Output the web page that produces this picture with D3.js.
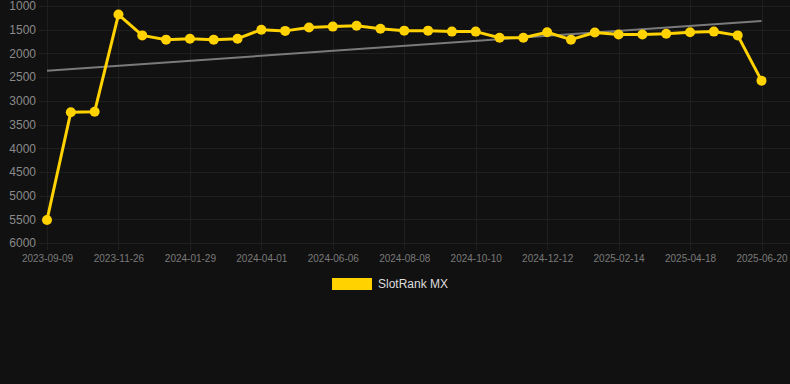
<!DOCTYPE html>
<html>
<head>
<meta charset="utf-8">
<script src="https://cdn.jsdelivr.net/npm/d3@7"></script>
<style>
  html, body { margin: 0; padding: 0; background: #111111; }
  svg { display: block; }
</style>
</head>
<body>
<svg id="chart" width="790" height="384"></svg>
<script>
const categories = [
  "2023-09-09","2023-10-05","2023-10-31","2023-11-26","2023-12-17","2024-01-08",
  "2024-01-29","2024-02-19","2024-03-11","2024-04-01","2024-04-23","2024-05-15",
  "2024-06-06","2024-06-27","2024-07-18","2024-08-08","2024-08-29","2024-09-19",
  "2024-10-10","2024-10-31","2024-11-21","2024-12-12","2025-01-02","2025-01-23",
  "2025-02-14","2025-03-07","2025-03-28","2025-04-18","2025-05-09","2025-05-30",
  "2025-06-20"
];
const rankValues = [
  5515, 3240, 3230, 1180, 1620, 1710, 1690, 1710, 1690, 1500, 1525, 1455,
  1435, 1415, 1480, 1520, 1520, 1540, 1540, 1670, 1670, 1555, 1710, 1560,
  1600, 1600, 1585, 1555, 1540, 1620, 2575
];
const trendValues = [2365, 1316];
const yTicks = [1000, 1500, 2000, 2500, 3000, 3500, 4000, 4500, 5000, 5500, 6000];
const xTickLabels = ["2023-09-09","2023-11-26","2024-01-29","2024-04-01","2024-06-06",
  "2024-08-08","2024-10-10","2024-12-12","2025-02-14","2025-04-18","2025-06-20"];
const seriesName = "SlotRank MX";

(function () {
const svg = d3.select("#chart");
const plotLeft = 47, plotRight = 761.5, plotTop = 6, plotBottom = 243;
const x = d3.scalePoint().domain(categories).range([plotLeft, plotRight]);
const y = d3.scaleLinear().domain([1000, 6000]).range([plotTop, plotBottom]);

const gridColor = "#1f1f1f";
svg.append("g").selectAll("line").data(yTicks).join("line")
  .attr("x1", 39).attr("x2", 790)
  .attr("y1", d => Math.round(y(d)) + 0.5).attr("y2", d => Math.round(y(d)) + 0.5)
  .attr("stroke", gridColor).attr("stroke-width", 1);
svg.append("g").selectAll("line").data(xTickLabels).join("line")
  .attr("x1", d => Math.round(x(d)) + 0.5).attr("x2", d => Math.round(x(d)) + 0.5)
  .attr("y1", 0).attr("y2", 250)
  .attr("stroke", gridColor).attr("stroke-width", 1);

const yAxis = d3.axisLeft(y).tickValues(yTicks).tickSize(0).tickPadding(0).tickFormat(d3.format("d"));
const yg = svg.append("g").attr("transform", "translate(36,0)").call(yAxis);
yg.select(".domain").remove();
yg.selectAll("text").attr("fill", "#8a8a8a").attr("font-family", "Liberation Sans, Arial, sans-serif")
  .attr("font-size", 12);

const xAxis = d3.axisBottom(x).tickValues(xTickLabels).tickSize(0).tickPadding(0);
const xg = svg.append("g").attr("transform", "translate(0,255)").call(xAxis);
xg.select(".domain").remove();
xg.selectAll("text").attr("fill", "#7a7a7a").attr("font-family", "Liberation Sans, Arial, sans-serif")
  .attr("font-size", 10).attr("dy", "0.71em");

svg.append("line")
  .attr("x1", x(categories[0])).attr("y1", y(trendValues[0]))
  .attr("x2", x(categories[categories.length - 1])).attr("y2", y(trendValues[1]))
  .attr("stroke", "#7a7a7a").attr("stroke-width", 2);

const data = categories.map((c, i) => ({ c, v: rankValues[i] }));
const line = d3.line().x(d => x(d.c)).y(d => y(d.v));
svg.append("path").datum(data).attr("d", line)
  .attr("fill", "none").attr("stroke", "#FFD200").attr("stroke-width", 3)
  .attr("stroke-linejoin", "round");
svg.append("g").selectAll("circle").data(data).join("circle")
  .attr("cx", d => x(d.c)).attr("cy", d => y(d.v)).attr("r", 5)
  .attr("fill", "#FFD200");

const lg = svg.append("g");
lg.append("rect").attr("x", 332).attr("y", 278).attr("width", 40).attr("height", 12)
  .attr("fill", "#FFD200");
lg.append("text").attr("x", 378).attr("y", 284).attr("dy", "0.35em")
  .attr("fill", "#dddddd").attr("font-family", "Liberation Sans, Arial, sans-serif")
  .attr("font-size", 12).text(seriesName);
})();
</script>
</body>
</html>
